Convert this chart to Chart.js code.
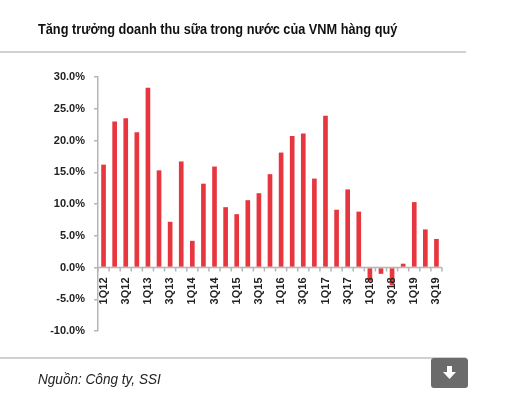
<!DOCTYPE html>
<html>
<head>
<meta charset="utf-8">
<script src="https://cdn.jsdelivr.net/npm/chart.js@4/dist/chart.umd.min.js"></script>
<style>
  html, body { margin: 0; padding: 0; background: #fff; }
  #wrap { position: relative; width: 513px; height: 407px; overflow: hidden; }
  #chart { position: absolute; left: 0; top: 0; }
  .title { position: absolute; left: 38px; top: 21px; font: bold 14px "Liberation Sans Narrow", "Liberation Sans", sans-serif; color: #111; white-space: nowrap; transform: scaleX(0.91); transform-origin: 0 0; }
  .rule { position: absolute; left: 0; width: 466px; height: 2px; background: #d0d0d0; }
  .source { position: absolute; left: 38px; top: 371px; font: italic 14px "Liberation Sans Narrow", "Liberation Sans", sans-serif; color: #222; white-space: nowrap; transform: scaleX(0.97); transform-origin: 0 0; }
  .btn { position: absolute; left: 431px; top: 358px; width: 37px; height: 30px; background: #6b6b6b; border-radius: 3px; }
</style>
</head>
<body>
<div id="wrap">
  <canvas id="chart" width="513" height="407"></canvas>
  <div class="title">Tăng trưởng doanh thu sữa trong nước của VNM hàng quý</div>
  <div class="rule" style="top:51px"></div>
  <div class="rule" style="top:357px"></div>
  <div class="source">Nguồn: Công ty, SSI</div>
  <div class="btn">
    <svg width="37" height="30" viewBox="0 0 37 30">
      <rect x="16" y="8" width="5" height="7" fill="#fff"/>
      <polygon points="12,14 25,14 18.5,21" fill="#fff"/>
    </svg>
  </div>
</div>
<script>
const quarters = ['1Q12','2Q12','3Q12','4Q12','1Q13','2Q13','3Q13','4Q13','1Q14','2Q14','3Q14','4Q14',
  '1Q15','2Q15','3Q15','4Q15','1Q16','2Q16','3Q16','4Q16','1Q17','2Q17','3Q17','4Q17',
  '1Q18','2Q18','3Q18','4Q18','1Q19','2Q19','3Q19'];
const growth = [16.2, 23.0, 23.5, 21.3, 28.3, 15.3, 7.2, 16.7, 4.2, 13.2, 15.9, 9.5,
  8.4, 10.6, 11.7, 14.7, 18.1, 20.7, 21.1, 14.0, 23.9, 9.1, 12.3, 8.8,
  -2.1, -1.0, -2.8, 0.6, 10.3, 6.0, 4.5];
const yTicks = [-10, -5, 0, 5, 10, 15, 20, 25, 30];

const narrow = '"Liberation Sans Narrow", "Liberation Sans", sans-serif';
const axisGray = '#b5b5b5';

// x axis drawn by hand: zero line, boundary ticks, labels rotated bottom-to-top
const zeroAxis = {
  id: 'zeroAxis',
  afterDatasetsDraw(chart) {
    const { ctx, chartArea, scales: { x, y } } = chart;
    const y0 = y.getPixelForValue(0);
    const step = x.getPixelForValue(1) - x.getPixelForValue(0);
    ctx.save();
    ctx.strokeStyle = axisGray;
    ctx.lineWidth = 1.5;
    ctx.beginPath();
    ctx.moveTo(chartArea.left, y0);
    ctx.lineTo(chartArea.right, y0);
    for (let i = 0; i <= quarters.length; i++) {
      const px = x.getPixelForValue(i) - step / 2;
      ctx.moveTo(px, y0);
      ctx.lineTo(px, y0 + 4);
    }
    ctx.stroke();
    ctx.fillStyle = '#222';
    ctx.font = 'bold 11px ' + narrow;
    ctx.textAlign = 'right';
    ctx.textBaseline = 'middle';
    quarters.forEach((q, i) => {
      if (i % 2) return;
      ctx.save();
      ctx.translate(x.getPixelForValue(i), y0 + 10);
      ctx.rotate(-Math.PI / 2);
      ctx.fillText(q, 0, 0);
      ctx.restore();
    });
    ctx.restore();
  }
};

new Chart(document.getElementById('chart'), {
  type: 'bar',
  data: {
    labels: quarters,
    datasets: [{
      data: growth,
      backgroundColor: '#e8363f',
      barPercentage: 0.42,
      categoryPercentage: 1.0
    }]
  },
  options: {
    responsive: false,
    animation: false,
    layout: { padding: { left: 0, top: 77, right: 71, bottom: 76 } },
    plugins: { legend: { display: false }, tooltip: { enabled: false } },
    scales: {
      x: { display: false },
      y: {
        min: -10, max: 30,
        afterBuildTicks: (s) => { s.ticks = yTicks.map(v => ({ value: v })); },
        afterFit: (s) => { s.width = 98; },
        border: { display: true, color: axisGray, width: 1.5 },
        grid: { drawOnChartArea: false, drawTicks: true, tickLength: 4, color: axisGray, lineWidth: 1.5 },
        ticks: {
          padding: 9,
          color: '#222',
          font: { family: narrow, size: 11, weight: 'bold' },
          callback: (v) => v.toFixed(1) + '%'
        }
      }
    }
  },
  plugins: [zeroAxis]
});
</script>
</body>
</html>
